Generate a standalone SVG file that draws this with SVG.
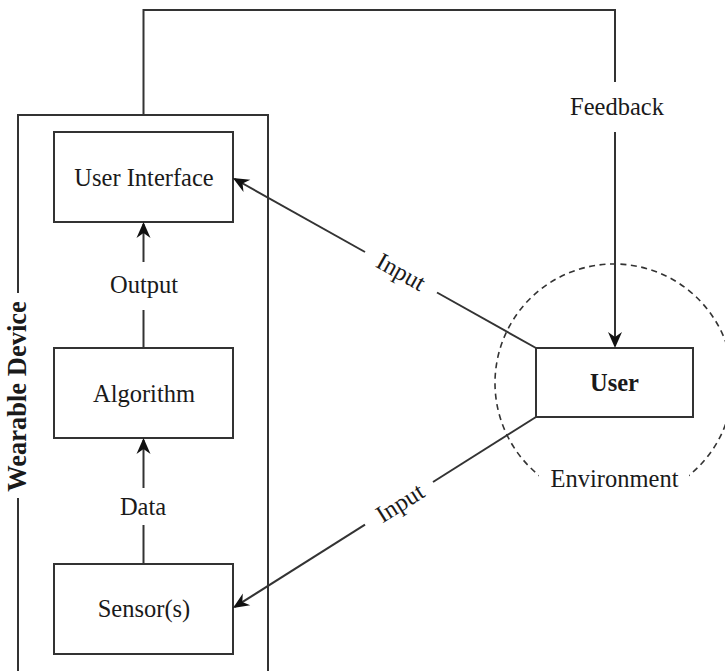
<svg xmlns="http://www.w3.org/2000/svg" width="725" height="671" viewBox="0 0 725 671">
  <style>
    .box { fill: #ffffff; stroke: #333333; stroke-width: 2; }
    .ln { fill: none; stroke: #333333; stroke-width: 2; }
    .t { font-family: "Liberation Serif", "Times New Roman", serif; font-size: 24.5px; fill: #1a1a1a; text-anchor: middle; }
    .b { font-weight: bold; }
    .env { fill: none; stroke: #333333; stroke-width: 1.6; stroke-dasharray: 6 4.5; }
  </style>
  <defs>
    <marker id="arr" markerUnits="userSpaceOnUse" markerWidth="24" markerHeight="20" viewBox="-18 -10 24 20" refX="0" refY="0" orient="auto">
      <path d="M2,0 L-14,-7 L-9,0 L-14,7 Z" fill="#111111"/>
    </marker>
  </defs>
  <rect width="725" height="671" fill="#ffffff"/>

  <g id="environment">
    <circle class="env" cx="614" cy="383" r="119"/>
    <rect x="539" y="462" width="150" height="46" fill="#ffffff"/>
    <text class="t" x="614.5" y="487">Environment</text>
  </g>

  <g id="wearable-device">
    <path class="ln" d="M18,293 V115 H268 V672"/>
    <path class="ln" d="M18,498 V672"/>
    <text class="t b" transform="translate(26,396.5) rotate(-90)" x="0" y="0" style="font-size:26.5px">Wearable Device</text>
  </g>

  <g id="user-interface">
    <rect class="box" x="54" y="132" width="179" height="90"/>
    <text class="t" x="144" y="186">User Interface</text>
  </g>

  <g id="algorithm">
    <rect class="box" x="54" y="348" width="179" height="90"/>
    <text class="t" x="144" y="402">Algorithm</text>
  </g>

  <g id="sensors">
    <rect class="box" x="54" y="564" width="179" height="90"/>
    <text class="t" x="144" y="617">Sensor(s)</text>
  </g>

  <g id="user">
    <rect class="box" x="536" y="348" width="157" height="69"/>
    <text class="t b" x="614.5" y="391">User</text>
  </g>

  <g id="connectors">
    <!-- Output -->
    <path class="ln" d="M143.5,348 V310"/>
    <path class="ln" d="M143.5,262 V224" marker-end="url(#arr)"/>
    <text class="t" x="144" y="293">Output</text>
    <!-- Data -->
    <path class="ln" d="M143.5,564 V525"/>
    <path class="ln" d="M143.5,488 V440" marker-end="url(#arr)"/>
    <text class="t" x="143" y="515">Data</text>
    <!-- Feedback -->
    <path class="ln" d="M143.5,115 V10 H615 V82"/>
    <path class="ln" d="M615,132 V346" marker-end="url(#arr)"/>
    <text class="t" x="617" y="115">Feedback</text>
    <!-- Input to User Interface -->
    <path class="ln" d="M536,348 L437,292.5"/>
    <path class="ln" d="M365,252 L234.7,179" marker-end="url(#arr)"/>
    <text class="t" transform="translate(401,272) rotate(29.3)" x="0" y="8">Input</text>
    <!-- Input to Sensors -->
    <path class="ln" d="M536,417 L433,482"/>
    <path class="ln" d="M365,524.7 L234.7,606.9" marker-end="url(#arr)"/>
    <text class="t" transform="translate(400,503) rotate(-32.2)" x="0" y="8">Input</text>
  </g>
</svg>
